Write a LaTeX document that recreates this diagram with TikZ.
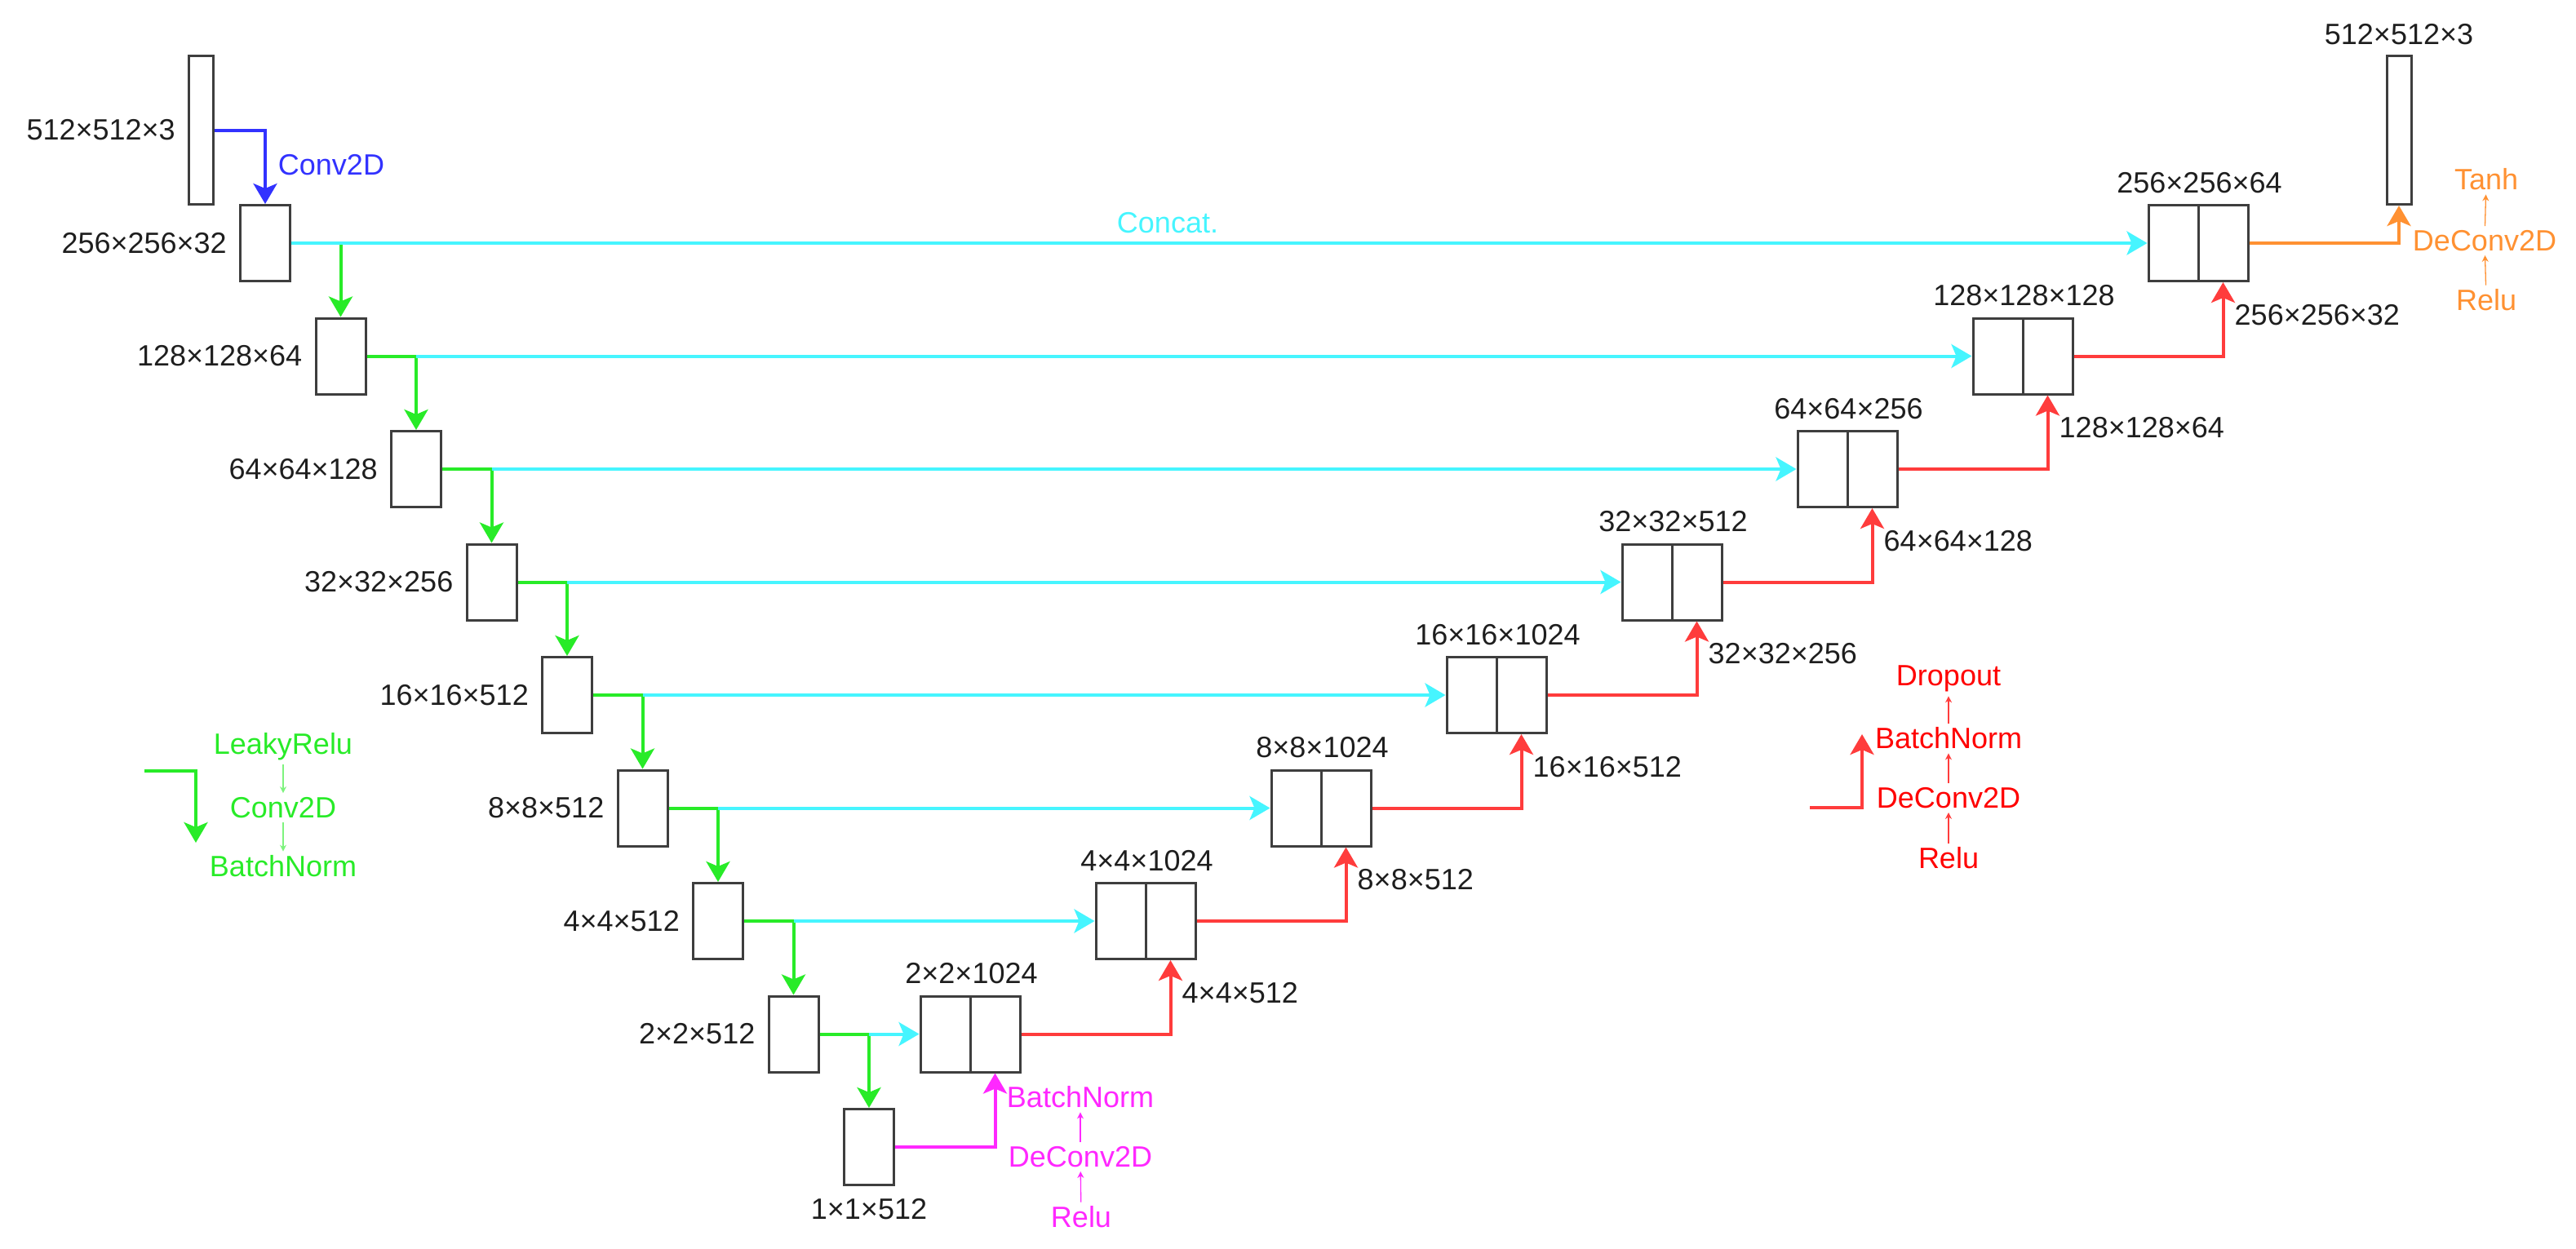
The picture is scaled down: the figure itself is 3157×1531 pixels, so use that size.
\documentclass[tikz,border=0pt]{standalone}
\usepackage{fontspec}
\setmainfont{Liberation Sans}
\usetikzlibrary{calc, positioning, arrows.meta}
\definecolor{boxgray}{RGB}{62,62,62}
\definecolor{txtgray}{RGB}{30,30,30}
\definecolor{cblue}{RGB}{50,50,255}
\definecolor{ccyan}{RGB}{70,245,255}
\definecolor{cgreen}{RGB}{40,235,40}
\definecolor{cred}{RGB}{255,60,60}
\definecolor{cmag}{RGB}{255,40,255}
\definecolor{corange}{RGB}{255,145,50}

\begin{document}
\begin{tikzpicture}[x=1pt, y=-1pt, font=\fontsize{36}{43}\selectfont,
	blk/.style={draw=boxgray, line width=3pt, minimum width=61pt, minimum height=93pt, inner sep=0pt},
	hlf/.style={blk, minimum width=61pt},
	img/.style={blk, minimum width=30pt, minimum height=182pt},
	txt/.style={inner sep=1pt, text=txtgray},
	l_a/.style={line width=4pt, -{Stealth[length=25pt, width=29pt, inset=6pt]}},
	l_s/.style={line width=1.3pt, shorten <=3pt, shorten >=3pt, -{Stealth[length=8pt, width=8pt]}}]
	\useasboundingbox (0,0) rectangle (3157,1531);

	% encoder
	\node[img] (e0) at (246.5,159.5) {};
	\node[txt, left=14pt of e0] (le0) {512×512×3};
	\foreach \t [count=\k] in {256×256×32, 128×128×64, 64×64×128, 32×32×256, 16×16×512, 8×8×512, 4×4×512, 2×2×512} {
		\node[blk] (e\k) at ({325+92.5*(\k-1)}, {298+138.5*(\k-1)}) {};
		\node[txt, left=14pt of e\k] (le\k) {\t};
	};
	\node[blk] (e9) at (1065,1406) {};
	\node[txt, below=14pt of e9] (le9) {1×1×512};

	% decoder
	\foreach \t [count=\k] in {256×256×64, 128×128×128, 64×64×256, 32×32×512, 16×16×1024, 8×8×1024, 4×4×1024, 2×2×1024} {
		\node[hlf] (dl\k) at ({2694-30.5-215*(\k-1)}, {298+138.5*(\k-1)}) {};
		\node[hlf] (dr\k) at ({2694+30.5-215*(\k-1)}, {298+138.5*(\k-1)}) {};
		\node[txt] (ld\k) at ($(dl\k.north east)+(0,-26)$) {\t};
	};
	\foreach \t [count=\k] in {256×256×32, 128×128×64, 64×64×128, 32×32×256, 16×16×512, 8×8×512, 4×4×512} {
		\node[txt, anchor=west] (lr\k) at ($(dr\k.south)+(13,40)$) {\t};
	};
	\node[img] (o) at (2940,159.5) {};
	\node[txt] (lo) at ($(o.north)+(0,-25)$) {512×512×3};

	% connections
	\draw[l_a, cblue] (e0.east) -| (e1.north);
	\node[text=cblue, inner sep=0pt] (conv) at (406,202) {Conv2D};
	\foreach \k [count=\n from 2] in {1,...,8} {
		\draw[l_a, cgreen] (e\k.east) -| (e\n.north);
		\draw[l_a, ccyan] (e\k.east -| e\n.north) -- (dl\k.west);
	};
	\draw[line width=4pt, ccyan] (e1.east) -- (e1.east -| e2.north);
	\node[text=ccyan, inner sep=0pt] (cat) at (1431,273) {Concat.};
	\foreach \k [count=\j] in {2,...,8} {
		\draw[l_a, cred] (dr\k.east) -| (dr\j.south);
	};
	\draw[l_a, cmag] (e9.east) -| (dr8.south);
	\draw[l_a, corange] (dr1.east) -| (o.south);

	% magenta steps
	\node[text=cmag, inner sep=2pt] (m1) at (1324,1345) {BatchNorm};
	\node[text=cmag, inner sep=2pt] (m2) at (1324,1418) {DeConv2D};
	\node[text=cmag, inner sep=2pt] (m3) at (1325,1492) {Relu};
	\draw[l_s, cmag] (m3) -- (m2);
	\draw[l_s, cmag] (m2) -- (m1);

	% orange steps
	\node[text=corange, inner sep=2pt] (y1) at (3047,220) {Tanh};
	\node[text=corange, inner sep=2pt] (y2) at (3045,295) {DeConv2D};
	\node[text=corange, inner sep=2pt] (y3) at (3047,368) {Relu};
	\draw[l_s, corange] (y3) -- (y2);
	\draw[l_s, corange] (y2) -- (y1);

	% legend encoder
	\coordinate (ga) at (177,945);
	\coordinate (gb) at (240,1033);
	\draw[l_a, cgreen] (ga) -| (gb);
	\node[text=cgreen, inner sep=2pt] (g1) at (347,915) {LeakyRelu};
	\node[text=cgreen, inner sep=2pt] (g2) at (347,990) {Conv2D};
	\node[text=cgreen, inner sep=2pt] (g3) at (347,1062) {BatchNorm};
	\draw[l_s, cgreen!60] (g1) -- (g2);
	\draw[l_s, cgreen!60] (g2) -- (g3);

	% legend decoder
	\coordinate (ra) at (2218,990);
	\coordinate (rb) at (2282,900);
	\draw[l_a, cred] (ra) -| (rb);
	\node[text=red, inner sep=2pt] (r1) at (2388,832) {Dropout};
	\node[text=red, inner sep=2pt] (r2) at (2388,905) {BatchNorm};
	\node[text=red, inner sep=2pt] (r3) at (2388,978) {DeConv2D};
	\node[text=red, inner sep=2pt] (r4) at (2388,1052) {Relu};
	\draw[l_s, cred] (r4) -- (r3);
	\draw[l_s, cred] (r3) -- (r2);
	\draw[l_s, cred] (r2) -- (r1);
\end{tikzpicture}
\end{document}
